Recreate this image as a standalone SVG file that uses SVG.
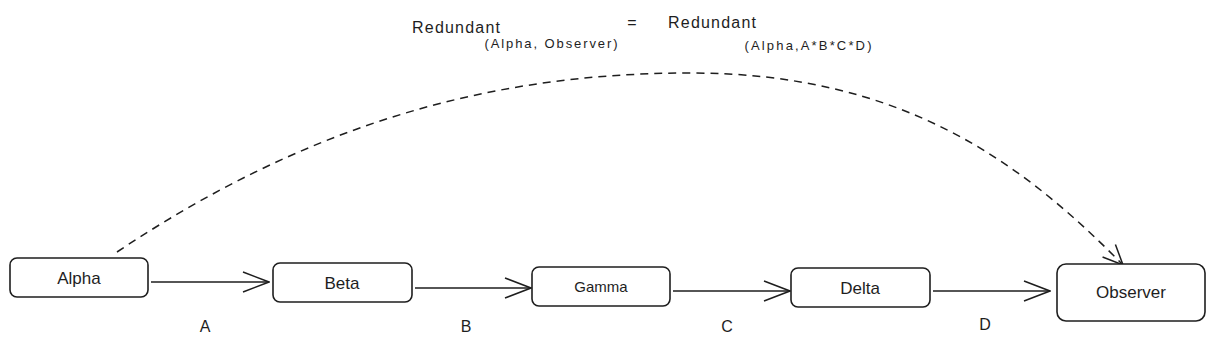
<svg xmlns="http://www.w3.org/2000/svg" width="1215" height="348" viewBox="0 0 1215 348">
<style>
.box{fill:#fff;stroke:#1e1e1e;stroke-width:1.6}
.t{font-family:"Liberation Sans",Arial,sans-serif;fill:#1e1e1e;text-anchor:middle}
.lbl{font-size:17px}
.conn{fill:none;stroke:#1e1e1e;stroke-width:1.5}
</style>
<defs>
<marker id="ah" viewBox="0 0 28 22" refX="27" refY="11" markerWidth="28" markerHeight="22" markerUnits="userSpaceOnUse" orient="auto">
<path d="M1,1 L27,11 L1,21" fill="none" stroke="#1e1e1e" stroke-width="1.5"/>
</marker>
<marker id="ah2" viewBox="0 0 22 20" refX="21" refY="10" markerWidth="22" markerHeight="20" markerUnits="userSpaceOnUse" orient="auto">
<path d="M1,1 L21,10 L1,19" fill="none" stroke="#1e1e1e" stroke-width="1.5"/>
</marker>
</defs>
<rect width="1215" height="348" fill="#fff"/>
<g id="title">
<text class="t" x="456" y="33" font-size="16" textLength="88" lengthAdjust="spacing">Redundant</text>
<text class="t" x="551" y="48" font-size="13" textLength="133" lengthAdjust="spacing">(Alpha, Observer)</text>
<text class="t" x="632" y="28" font-size="16">=</text>
<text class="t" x="712" y="28" font-size="16" textLength="88" lengthAdjust="spacing">Redundant</text>
<text class="t" x="808" y="50" font-size="13" textLength="127" lengthAdjust="spacing">(Alpha,A*B*C*D)</text>
</g>
<g id="connectors">
<path class="conn" d="M151,282 L269,282" marker-end="url(#ah)"/>
<path class="conn" d="M415,288 L531,288" marker-end="url(#ah)"/>
<path class="conn" d="M673,291 L790,291" marker-end="url(#ah)"/>
<path class="conn" d="M933,291 L1050,291" marker-end="url(#ah)"/>
<path class="conn" stroke-dasharray="8,6" d="M117,252 C300,130 480,73 690,73 C900,73 1020,160 1123,265" marker-end="url(#ah2)"/>
<text class="t" x="205" y="332" font-size="16">A</text>
<text class="t" x="466" y="332" font-size="16">B</text>
<text class="t" x="727" y="332" font-size="16">C</text>
<text class="t" x="985" y="330" font-size="16">D</text>
</g>
<g id="alpha"><rect class="box" x="10" y="258" width="138" height="39" rx="7"/><text class="t lbl" x="79" y="284">Alpha</text></g>
<g id="beta"><rect class="box" x="273" y="263" width="139" height="39" rx="7"/><text class="t lbl" x="342" y="289">Beta</text></g>
<g id="gamma"><rect class="box" x="532" y="267" width="138" height="39" rx="7"/><text class="t" font-size="15" x="601" y="292">Gamma</text></g>
<g id="delta"><rect class="box" x="791" y="268" width="139" height="39" rx="7"/><text class="t lbl" x="860" y="294">Delta</text></g>
<g id="observer"><rect class="box" x="1057" y="264" width="148" height="57" rx="9"/><text class="t lbl" x="1131" y="298">Observer</text></g>
</svg>
